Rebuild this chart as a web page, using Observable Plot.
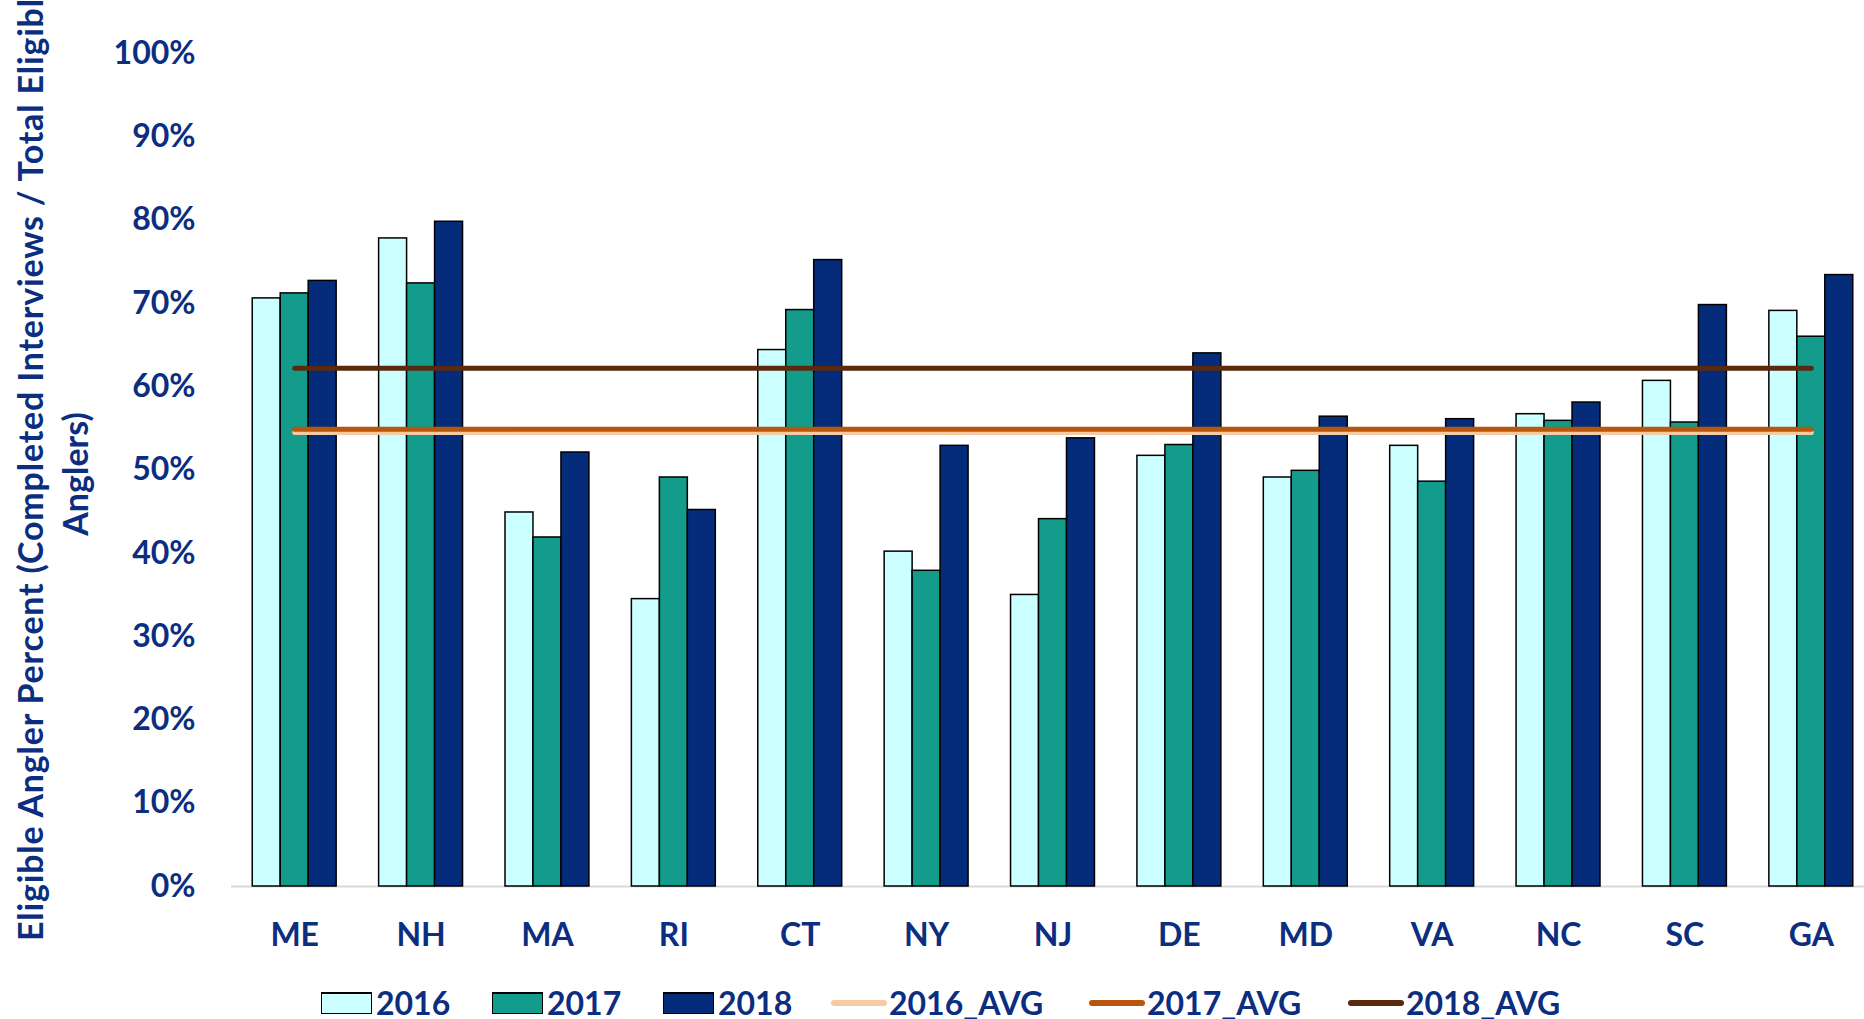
<!DOCTYPE html>
<html>
<head>
<meta charset="utf-8">
<script src="https://cdn.jsdelivr.net/npm/d3@7"></script>
<script src="https://cdn.jsdelivr.net/npm/@observablehq/plot@0.6"></script>
<style>
  html, body { margin: 0; padding: 0; background: #ffffff; overflow: hidden; }
  #wrap { position: relative; width: 1864px; height: 1019px; overflow: hidden;
          font-family: Lato, "Open Sans", sans-serif; font-weight: 700; color: #0b2e80; }
  #chart svg { display: block; }
  .leg { position: absolute; top: 989px; height: 27px; display: flex; align-items: center;
         font-size: 32px; line-height: 27px; white-space: nowrap; }
  .sq { width: 49px; height: 19px; border: 1px solid #000; border-top-width: 2px; margin-right: 4px; }
  .ln { width: 56px; height: 6px; border-radius: 3px; margin-right: 2px; }
</style>
</head>
<body>
<div id="wrap">
  <div id="chart"></div>
  <div id="legend"></div>
</div>
<script>
// ---- data ----
const states = ["ME", "NH", "MA", "RI", "CT", "NY", "NJ", "DE", "MD", "VA", "NC", "SC", "GA"];
const years = ["2016", "2017", "2018"];
const v2016 = [70.6, 77.8, 44.9, 34.5, 64.4, 40.2, 35.0, 51.7, 49.1, 52.9, 56.7, 60.7, 69.1];
const v2017 = [71.2, 72.4, 41.9, 49.1, 69.2, 37.9, 44.1, 53.0, 49.9, 48.6, 55.9, 55.7, 66.0];
const v2018 = [72.7, 79.8, 52.1, 45.2, 75.2, 52.9, 53.8, 64.0, 56.4, 56.1, 58.1, 69.8, 73.4];
const avgLabels = ["2016_AVG", "2017_AVG", "2018_AVG"];
const avgValues = [54.5, 54.9, 62.2];
const yTicks = [0, 10, 20, 30, 40, 50, 60, 70, 80, 90, 100];
const yLabelLines = ["Eligible Angler Percent (Completed Interviews / Total Eligible", "Anglers)"];

// ---- styles ----
const barColors = ["#ccffff", "#139c8c", "#052c7a"];
const avgColors = ["#f6cba4", "#b9560d", "#5a2a0e"];
const textColor = "#0b2e80";

const series = [v2016, v2017, v2018];
const rows = years.flatMap((yr, i) => states.map((s, j) => ({state: s, year: yr, value: series[i][j]})));
const avgRows = avgLabels.flatMap((lab, i) => states.map(s => ({state: s, series: lab, value: avgValues[i]})));

const W = 1864, H = 965, mL = 231, mR = -10, mT = 53, mB = 79;
const xOpts = {type: "band", domain: states, paddingInner: 0.336, paddingOuter: 0.168, align: 0.5, round: false};
const bw = Plot.scale({x: {...xOpts, range: [mL, W - mR]}}).bandwidth;

const plot = Plot.plot({
  width: W, height: H,
  marginLeft: mL, marginRight: mR, marginTop: mT, marginBottom: mB,
  style: {fontFamily: "Lato, 'Open Sans', sans-serif", fontSize: "32px", fontWeight: 700,
          color: textColor, background: "#ffffff", overflow: "hidden"},
  x: {...xOpts, label: null},
  y: {domain: [0, 100], label: null},
  marks: [
    Plot.ruleY([0], {stroke: "#d9d9d9", strokeWidth: 2}),
    ...years.map((yr, i) => Plot.barY(rows.filter(d => d.year === yr), {
      x: "state", y: "value", fill: barColors[i], stroke: "#000000", strokeWidth: 1.5,
      insetLeft: i * bw / 3, insetRight: (2 - i) * bw / 3
    })),
    ...avgLabels.map((lab, i) => Plot.lineY(avgRows.filter(d => d.series === lab), {
      x: "state", y: "value", stroke: avgColors[i], strokeWidth: 5, strokeLinecap: "round"
    })),
    Plot.axisY({ticks: yTicks, tickFormat: d => d + "%", tickSize: 0, tickPadding: 36, label: null}),
    Plot.axisX({tickSize: 0, tickPadding: 37, label: null})
  ]
});
document.getElementById("chart").appendChild(plot);

// rotated two-line y-axis title
const svg = d3.select(plot);
svg.append("text")
  .attr("transform", "translate(43,941) rotate(-90)")
  .attr("text-anchor", "start")
  .attr("fill", textColor).attr("font-size", 34).attr("font-weight", 700)
  .attr("letter-spacing", 0.8)
  .text(yLabelLines[0]);
svg.append("text")
  .attr("transform", "translate(88,474) rotate(-90)")
  .attr("text-anchor", "middle")
  .attr("fill", textColor).attr("font-size", 34).attr("font-weight", 700)
  .text(yLabelLines[1]);

// legend
const legend = document.getElementById("legend");
const sqLeft = [321, 492, 663];
const lnLeft = [831, 1089, 1348];
years.forEach((yr, i) => {
  const item = document.createElement("div");
  item.className = "leg";
  item.style.left = sqLeft[i] + "px";
  item.innerHTML = `<div class="sq" style="background:${barColors[i]}"></div><span>${yr}</span>`;
  legend.appendChild(item);
});
avgLabels.forEach((lab, i) => {
  const item = document.createElement("div");
  item.className = "leg";
  item.style.left = lnLeft[i] + "px";
  item.innerHTML = `<div class="ln" style="background:${avgColors[i]}"></div><span>${lab}</span>`;
  legend.appendChild(item);
});
</script>
</body>
</html>
